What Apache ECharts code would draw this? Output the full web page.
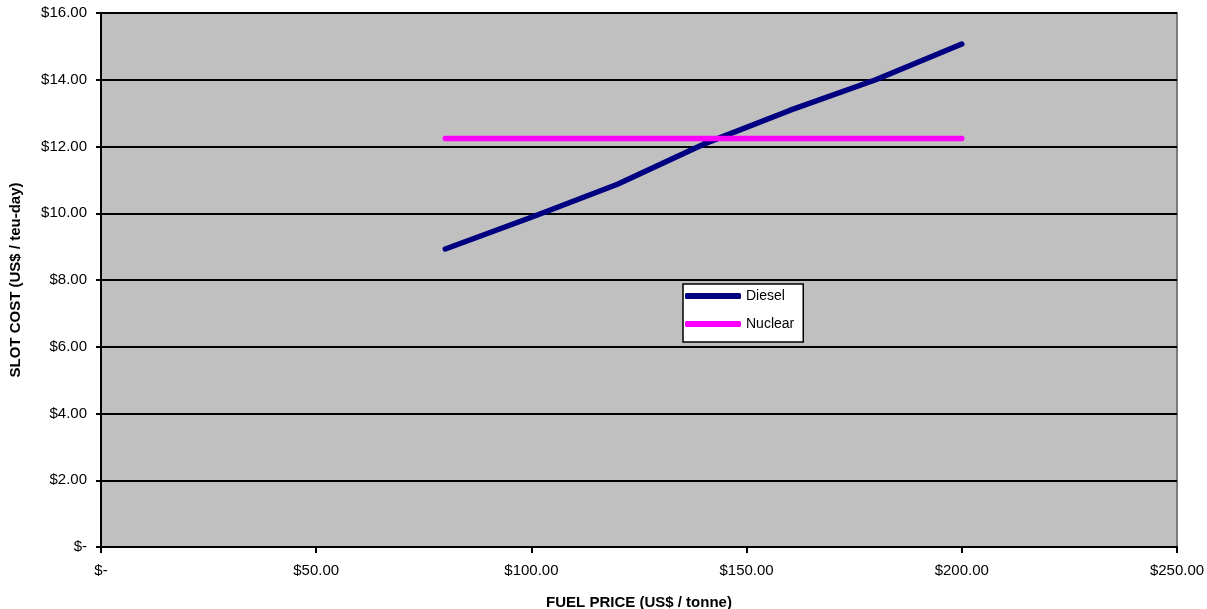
<!DOCTYPE html>
<html>
<head>
<meta charset="utf-8">
<script src="https://cdn.jsdelivr.net/npm/echarts@6/dist/echarts.min.js"></script>
<style>
html,body{margin:0;padding:0;background:#fff;}
#chart{width:1207px;height:609px;}
</style>
</head>
<body>
<div id="chart"></div>
<script>
const fuelPrice = [80, 100, 120, 140, 160, 180, 200];
const dieselCost = [8.93, 9.88, 10.87, 12.07, 13.08, 14.0, 15.07];
const nuclearCost = [12.24, 12.24, 12.24, 12.24, 12.24, 12.24, 12.24];
const seriesNames = ['Diesel', 'Nuclear'];
const xAxisTitle = 'FUEL PRICE (US$ / tonne)';
const yAxisTitle = 'SLOT COST (US$ / teu-day)';

const money = v => v === 0 ? '$-' : '$' + v.toFixed(2);
const font = 'Liberation Sans, Arial, sans-serif';

const chart = echarts.init(document.getElementById('chart'), null, {renderer: 'canvas'});
chart.setOption({
  animation: false,
  textStyle: {fontFamily: font},
  grid: {
    left: 101, right: 30, top: 13, bottom: 62,
    outerBoundsMode: 'none', containLabel: false,
    show: true, backgroundColor: '#c0c0c0', borderColor: '#7a7a7a', borderWidth: 2
  },
  legend: {
    orient: 'vertical',
    left: 683, top: 284,
    padding: [5, 9, 11, 2],
    itemGap: 14,
    itemWidth: 56, itemHeight: 6,
    icon: 'roundRect',
    backgroundColor: '#ffffff',
    borderColor: '#000000', borderWidth: 1.5,
    textStyle: {fontFamily: font, fontSize: 14, color: '#000'},
    data: seriesNames
  },
  xAxis: {
    type: 'value', min: 0, max: 250, interval: 50,
    name: xAxisTitle, nameLocation: 'middle', nameGap: 48,
    nameTextStyle: {fontFamily: font, fontSize: 15, fontWeight: 'bold', color: '#000', verticalAlign: 'top'},
    axisLine: {show: true, onZero: false, lineStyle: {color: '#000', width: 2}},
    axisTick: {show: true, length: 6, lineStyle: {color: '#000', width: 2}},
    axisLabel: {formatter: money, fontFamily: font, fontSize: 15, color: '#000', margin: 16},
    splitLine: {show: false}
  },
  yAxis: {
    type: 'value', min: 0, max: 16, interval: 2,
    name: yAxisTitle, nameLocation: 'middle', nameGap: 78,
    nameTextStyle: {fontFamily: font, fontSize: 15, fontWeight: 'bold', color: '#000'},
    axisLine: {show: true, onZero: false, lineStyle: {color: '#000', width: 2}},
    axisTick: {show: true, length: 5, lineStyle: {color: '#000', width: 2}},
    axisLabel: {formatter: money, fontFamily: font, fontSize: 15, color: '#000', margin: 14},
    splitLine: {show: true, lineStyle: {color: '#000', width: 2}}
  },
  series: [
    {
      name: seriesNames[0], type: 'line', showSymbol: false, symbol: 'none',
      data: fuelPrice.map((x, i) => [x, dieselCost[i]]),
      lineStyle: {color: '#000080', width: 5.5, cap: 'round', join: 'round'},
      itemStyle: {color: '#000080'}
    },
    {
      name: seriesNames[1], type: 'line', showSymbol: false, symbol: 'none',
      data: fuelPrice.map((x, i) => [x, nuclearCost[i]]),
      lineStyle: {color: '#ff00ff', width: 5.5, cap: 'round', join: 'round'},
      itemStyle: {color: '#ff00ff'}
    }
  ]
});
</script>
</body>
</html>
